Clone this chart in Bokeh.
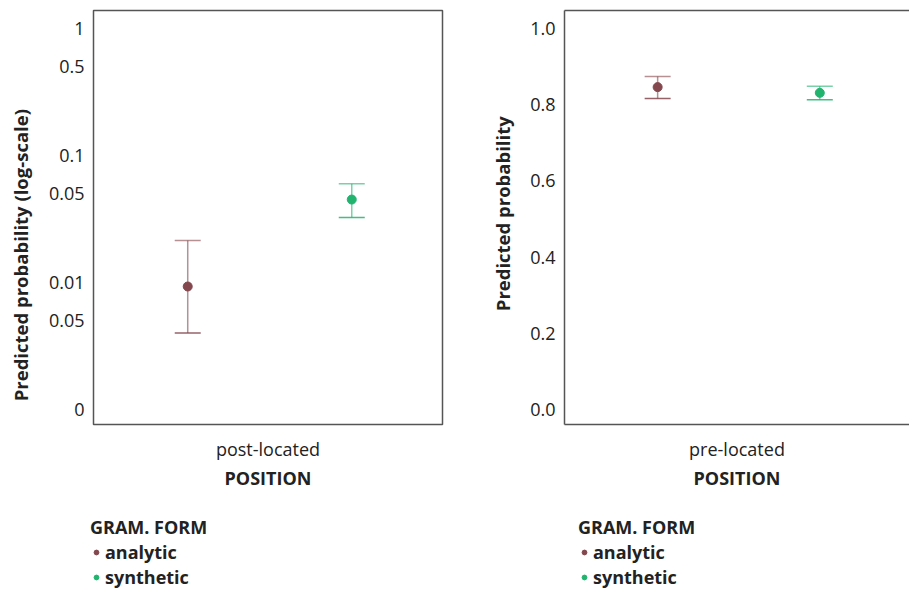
from bokeh.plotting import figure
from bokeh.models import (Range1d, FixedTicker, Legend, LegendItem, Label,
                          LinearAxis, ColumnDataSource, Whisker, TeeHead)
from bokeh.layouts import row, column
from bokeh.embed import file_html
from bokeh.resources import INLINE

FONT = "Open Sans"
TEXT_COLOR = "#222222"
FRAME_COLOR = "#555555"
PH = 500   # height of the plot row
LH = 91    # height of the legend row

forms = ["analytic", "synthetic"]
form_colors = ["#83474d", "#22b36f"]
legend_title = "GRAM. FORM"

post_category = ["post-located"]
post_est = [0.0093, 0.045]
post_lower = [0.0040, 0.0325]
post_upper = [0.0214, 0.060]

pre_category = ["pre-located"]
pre_est = [0.846, 0.831]
pre_lower = [0.816, 0.813]
pre_upper = [0.874, 0.848]

log_tick_values = [1, 0.5, 0.1, 0.05, 0.01, 0.005, 0.001]
log_tick_labels = ["1", "0.5", "0.1", "0.05", "0.01", "0.05", "0"]
lin_tick_values = [0.0, 0.2, 0.4, 0.6, 0.8, 1.0]
lin_tick_labels = ["0.0", "0.2", "0.4", "0.6", "0.8", "1.0"]

DODGE = [-0.23, 0.24]


def blank_fig(width, height):
    f = figure(width=width, height=height, x_range=Range1d(0, width),
               y_range=Range1d(0, height), output_backend="svg",
               toolbar_location=None, x_axis_location=None,
               y_axis_location=None, min_border_left=0,
               min_border_right=0, min_border_top=0, min_border_bottom=0)
    f.outline_line_color = None
    f.xgrid.visible = False
    f.ygrid.visible = False
    return f


def label_fig(width, text, cx, cy):
    f = blank_fig(width, PH)
    f.add_layout(Label(x=cx, y=PH - cy, text=text, angle=1.5707963,
                       text_align="center", text_baseline="middle",
                       text_font=FONT, text_font_size="18.5px",
                       text_font_style="bold", text_color=TEXT_COLOR))
    return f


def legend_fig(width, lx):
    f = blank_fig(width, LH)
    # renderers only used for the legend glyphs (point lies outside the view)
    rs = [f.scatter(x=[-1000], y=[-1000], size=9, fill_color=c, line_color=c)
          for c in form_colors]
    legend = Legend(items=[LegendItem(label=n, renderers=[r])
                           for n, r in zip(forms, rs)],
                    location=(lx, 2), title=legend_title,
                    title_text_font=FONT, title_text_font_size="18px",
                    title_text_font_style="bold", title_text_color=TEXT_COLOR,
                    title_standoff=1, label_text_font=FONT,
                    label_text_font_size="18px", label_text_font_style="bold",
                    label_text_color=TEXT_COLOR, label_height=20,
                    glyph_height=20, glyph_width=12, label_standoff=3,
                    spacing=1, padding=0, margin=0, border_line_color=None,
                    background_fill_alpha=0)
    f.add_layout(legend)
    return f


def make_panel(category, est, lower, upper, y_type, y_range, tick_vals,
               tick_labels, width, left_border, right_border, boxed):
    p = figure(width=width, height=PH, x_range=Range1d(-0.5, 0.5),
               y_range=y_range, y_axis_type=y_type, output_backend="svg",
               toolbar_location=None, min_border_left=left_border,
               min_border_right=right_border, min_border_top=10,
               min_border_bottom=76)
    p.xgrid.visible = False
    p.ygrid.visible = False

    for i, form in enumerate(forms):
        color = form_colors[i]
        src = ColumnDataSource(dict(x=[0 + DODGE[i]], y=[est[i]],
                                    lo=[lower[i]], hi=[upper[i]]))
        w = Whisker(base="x", lower="lo", upper="hi", source=src,
                    dimension="height", line_color=color, line_alpha=0.6,
                    line_width=1.5,
                    upper_head=TeeHead(size=26, line_color=color,
                                       line_alpha=0.6, line_width=1.5),
                    lower_head=TeeHead(size=26, line_color=color,
                                       line_alpha=0.85, line_width=1.5))
        p.add_layout(w)
        p.scatter("x", "y", source=src, size=9, fill_color=color,
                  line_color=color)

    for ax in (p.xaxis[0], p.yaxis[0]):
        ax.major_tick_out = 0
        ax.major_tick_in = 0
        ax.minor_tick_line_color = None
        ax.major_tick_line_color = None
        ax.major_label_text_font = FONT
        ax.major_label_text_font_size = "18px"
        ax.major_label_text_color = TEXT_COLOR
        ax.axis_label_text_font = FONT
        ax.axis_label_text_font_size = "18px"
        ax.axis_label_text_font_style = "bold"
        ax.axis_label_text_color = TEXT_COLOR

    p.xaxis.ticker = FixedTicker(ticks=[0])
    p.xaxis.major_label_overrides = {0: category[0]}
    p.xaxis.major_label_standoff = 12
    p.xaxis.axis_label = "POSITION"
    p.xaxis.axis_label_standoff = 2

    p.yaxis.ticker = FixedTicker(ticks=tick_vals)
    p.yaxis.major_label_overrides = {v: l for v, l in zip(tick_vals, tick_labels)}
    p.yaxis.major_label_standoff = 9

    if boxed:
        p.outline_line_color = FRAME_COLOR
        p.outline_line_width = 1.5
        p.xaxis.axis_line_color = None
        p.yaxis.axis_line_color = None
    else:
        p.outline_line_color = None
        p.xaxis.axis_line_color = FRAME_COLOR
        p.xaxis.axis_line_width = 1.5
        p.yaxis.axis_line_color = FRAME_COLOR
        p.yaxis.axis_line_width = 1.5
        top = LinearAxis(ticker=FixedTicker(ticks=[]), axis_line_color=FRAME_COLOR,
                         axis_line_width=1.5, major_tick_out=0, major_tick_in=0,
                         minor_tick_line_color=None, major_label_standoff=0)
        p.add_layout(top, "above")
    return p


lab1 = label_fig(40, "Predicted probability (log-scale)", 20, 295.5)
p1 = make_panel(post_category, post_est, post_lower, post_upper, "log",
                Range1d(0.000762, 1.386), log_tick_values, log_tick_labels,
                440, 53, 38, True)
lab2 = label_fig(40, "Predicted probability", 22, 245.5)
p2 = make_panel(pre_category, pre_est, pre_lower, pre_upper, "linear",
                Range1d(-0.039, 1.047), lin_tick_values, lin_tick_labels,
                389, 44, 0, False)
leg1 = legend_fig(480, 90)
leg2 = legend_fig(429, 98)

layout = column(row(lab1, p1, lab2, p2), row(leg1, leg2))
open("out.html", "w").write(file_html(layout, INLINE))
